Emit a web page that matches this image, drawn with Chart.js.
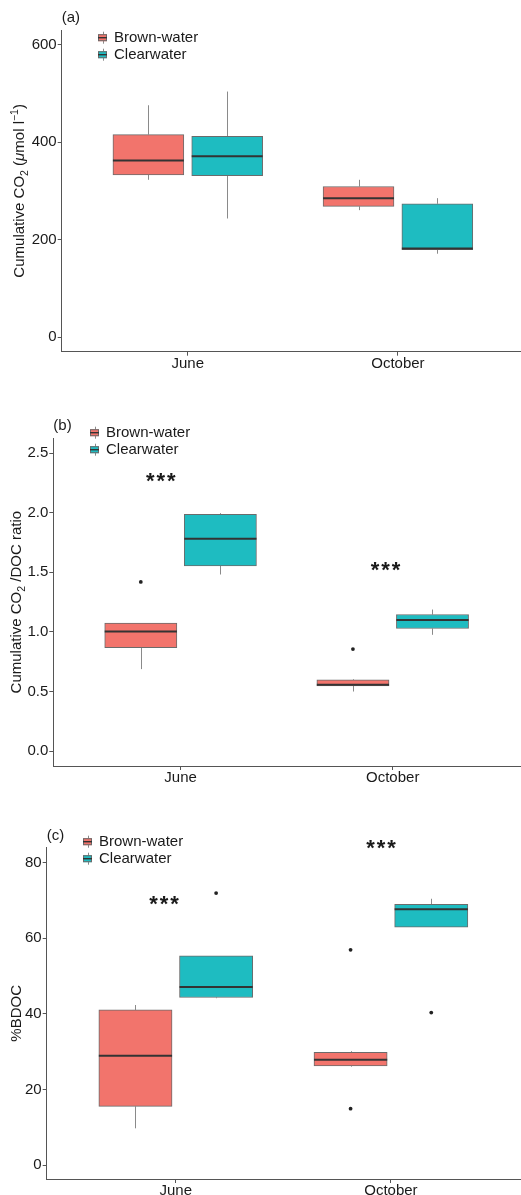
<!DOCTYPE html>
<html>
<head>
<meta charset="utf-8">
<script src="https://cdn.jsdelivr.net/npm/chart.js@4.4.1/dist/chart.umd.min.js"></script>
<style>
  html, body { margin: 0; padding: 0; background: #fff; overflow: hidden; width: 521px; height: 1195px; }
  canvas { position: absolute; left: 0; }
</style>
</head>
<body>
<canvas id="panelA" width="524" height="390" style="top:0px"></canvas>
<canvas id="panelB" width="524" height="395" style="top:395px"></canvas>
<canvas id="panelC" width="524" height="395" style="top:800px"></canvas>
<script>
const months = ['June', 'October'];
const groups = ['Brown-water', 'Clearwater'];

// five-number summaries per month: [lower whisker, Q1, median, Q3, upper whisker]
const co2Brown = [[322.7, 332.9, 362.2, 415.5, 475.6], [260.4, 268.0, 285.0, 309.0, 322.7]];
const co2Clear = [[243.3, 330.9, 371.0, 412.0, 503.7], [171.0, 179.2, 181.8, 273.5, 285.0]];
const co2BrownOut = [[], []];
const co2ClearOut = [[], []];

const ratioBrown = [[0.688, 0.869, 1.003, 1.074, 1.074], [0.500, 0.548, 0.556, 0.598, 0.604]];
const ratioClear = [[1.482, 1.555, 1.781, 1.988, 1.997], [0.976, 1.029, 1.101, 1.146, 1.188]];
const ratioBrownOut = [[1.42], [0.856]];
const ratioClearOut = [[], []];

const bdocBrown = [[9.7, 15.5, 28.9, 41.0, 42.3], [26.0, 26.2, 27.8, 29.8, 30.1]];
const bdocClear = [[44.1, 44.3, 47.1, 55.3, 55.3], [62.9, 62.9, 67.6, 68.9, 70.4]];
const bdocBrownOut = [[], [56.9, 14.9]];
const bdocClearOut = [[71.9], [40.3]];

const co2Ticks = [0, 200, 400, 600];
const ratioTicks = [0, 0.5, 1, 1.5, 2, 2.5];
const bdocTicks = [0, 20, 40, 60, 80];

// significance marks ("***"): x in month units, y in data units
const ratioSigX = [0.907, 1.966];
const ratioSigY = [2.31, 1.563];
const bdocSigX = [0.945, 1.954];
const bdocSigY = [70.5, 85.3];

const FONT = '"Liberation Sans", Arial, Helvetica, sans-serif';
const fills = ['#F2746C', '#1EBCC1'];
const boxLine = '#6b6b6b';
const whiskerLine = '#8a8a8a';
const medianLine = '#333333';
const axisLine = '#555555';
const textColor = '#1a1a1a';

Chart.defaults.font.family = FONT;

const panels = [
  {
    id: 'panelA', tag: '(a)',
    title: [{ t: 'Cumulative CO' }, { t: '2', sub: true }, { t: ' (' }, { t: 'μ', it: true }, { t: 'mol l' }, { t: '−1', sup: true }, { t: ')' }],
    stats: [co2Brown, co2Clear], outs: [co2BrownOut, co2ClearOut],
    ticks: co2Ticks, fmt: v => String(v), yMin: -30, yMax: 630,
    sigX: [], sigY: [],
    area: { left: 61.7, top: 30, bottom: 351.7 }, legend: { x: 98, y: 37.7 }, titleX: 19
  },
  {
    id: 'panelB', tag: '(b)',
    title: [{ t: 'Cumulative CO' }, { t: '2', sub: true }, { t: ' /DOC ratio' }],
    stats: [ratioBrown, ratioClear], outs: [ratioBrownOut, ratioClearOut],
    ticks: ratioTicks, fmt: v => v.toFixed(1), yMin: -0.125, yMax: 2.625,
    sigX: ratioSigX, sigY: ratioSigY,
    area: { left: 53.3, top: 43.3, bottom: 371 }, legend: { x: 90, y: 37.7 }, titleX: 16
  },
  {
    id: 'panelC', tag: '(c)',
    title: [{ t: '%BDOC' }],
    stats: [bdocBrown, bdocClear], outs: [bdocBrownOut, bdocClearOut],
    ticks: bdocTicks, fmt: v => String(v), yMin: -3.7, yMax: 83.9,
    sigX: bdocSigX, sigY: bdocSigY,
    area: { left: 46.7, top: 47.7, bottom: 379 }, legend: { x: 83, y: 41.7 }, titleX: 16
  }
];

// vertical title made of regular, italic, subscript and superscript runs
function drawRichVertical(ctx, segs, cx, cy, size) {
  const fontFor = s => {
    const sz = (s.sub || s.sup) ? size * 0.7 : size;
    return (s.it ? 'italic ' : '') + sz + 'px ' + FONT;
  };
  let total = 0;
  const widths = segs.map(s => { ctx.font = fontFor(s); const w = ctx.measureText(s.t).width; total += w; return w; });
  ctx.save();
  ctx.translate(cx, cy);
  ctx.rotate(-Math.PI / 2);
  ctx.fillStyle = textColor;
  ctx.textBaseline = 'alphabetic';
  ctx.textAlign = 'left';
  let x = -total / 2;
  const base = size * 0.36;
  segs.forEach((s, i) => {
    ctx.font = fontFor(s);
    let y = base;
    if (s.sub) y += size * 0.22;
    if (s.sup) y -= size * 0.42;
    ctx.fillText(s.t, x, y);
    x += widths[i];
  });
  ctx.restore();
}

// "***" with the asterisks spread a little wider than the font's own advance
function drawStars(ctx, cx, cy) {
  ctx.save();
  ctx.font = 'bold 22px ' + FONT;
  ctx.textAlign = 'center';
  ctx.textBaseline = 'alphabetic';
  ctx.fillStyle = textColor;
  [-10.5, 0, 10.5].forEach(dx => ctx.fillText('*', cx + dx, cy + 12.5));
  ctx.restore();
}

function makeChart(p) {
  const canvas = document.getElementById(p.id);
  const W = canvas.width, H = canvas.height;
  const unit = (W - p.area.left) / 2.2;
  const boxW = 0.3375 * unit;
  const dodge = [-0.1875, 0.1875];

  const datasets = [];
  groups.forEach((g, gi) => {
    datasets.push({
      type: 'bar',
      label: g,
      data: months.map((m, mi) => ({ x: mi + 1 + dodge[gi], y: [p.stats[gi][mi][1], p.stats[gi][mi][3]] })),
      backgroundColor: fills[gi],
      borderColor: boxLine,
      borderWidth: 1,
      borderSkipped: false,
      grouped: false,
      barThickness: boxW
    });
  });
  groups.forEach((g, gi) => {
    const pts = [];
    months.forEach((m, mi) => p.outs[gi][mi].forEach(v => pts.push({ x: mi + 1 + dodge[gi], y: v })));
    datasets.push({
      type: 'scatter',
      label: g + ' outliers',
      data: pts,
      pointRadius: 1.9,
      pointBackgroundColor: '#222',
      pointBorderWidth: 0,
      showLine: false
    });
  });

  const parts = {
    id: 'boxParts',
    beforeDatasetsDraw(chart) {
      const ctx = chart.ctx, ys = chart.scales.y;
      ctx.save();
      ctx.strokeStyle = whiskerLine;
      ctx.lineWidth = 1;
      groups.forEach((g, gi) => {
        const meta = chart.getDatasetMeta(gi);
        months.forEach((m, mi) => {
          const s = p.stats[gi][mi];
          const x = Math.round(meta.data[mi].x) + 0.5;
          ctx.beginPath();
          ctx.moveTo(x, ys.getPixelForValue(s[4]));
          ctx.lineTo(x, ys.getPixelForValue(s[3]));
          ctx.moveTo(x, ys.getPixelForValue(s[1]));
          ctx.lineTo(x, ys.getPixelForValue(s[0]));
          ctx.stroke();
        });
      });
      ctx.restore();
    },
    afterDatasetsDraw(chart) {
      const ctx = chart.ctx, ys = chart.scales.y;
      ctx.save();
      ctx.strokeStyle = medianLine;
      ctx.lineWidth = 2;
      groups.forEach((g, gi) => {
        const meta = chart.getDatasetMeta(gi);
        months.forEach((m, mi) => {
          const el = meta.data[mi];
          const y = ys.getPixelForValue(p.stats[gi][mi][2]);
          ctx.beginPath();
          ctx.moveTo(el.x - el.width / 2, y);
          ctx.lineTo(el.x + el.width / 2, y);
          ctx.stroke();
        });
      });
      ctx.restore();
    },
    afterDraw(chart) {
      const ctx = chart.ctx, xs = chart.scales.x, ys = chart.scales.y, area = chart.chartArea;
      ctx.save();
      // panel tag
      ctx.font = '15px ' + FONT;
      ctx.fillStyle = textColor;
      ctx.textAlign = 'left';
      ctx.textBaseline = 'middle';
      ctx.fillText(p.tag, area.left, area.top - 12);

      // legend
      groups.forEach((g, gi) => {
        const cy = p.legend.y + gi * 17;
        const lx = p.legend.x;
        const cx = Math.round(lx + 4.5) + 0.5;
        ctx.strokeStyle = whiskerLine;
        ctx.lineWidth = 1;
        ctx.beginPath();
        ctx.moveTo(cx, cy - 6);
        ctx.lineTo(cx, cy + 6);
        ctx.stroke();
        ctx.fillStyle = fills[gi];
        ctx.fillRect(lx, cy - 3.5, 9, 7);
        ctx.strokeStyle = boxLine;
        ctx.strokeRect(lx + 0.5, cy - 3, 8, 6);
        ctx.strokeStyle = medianLine;
        ctx.lineWidth = 1.4;
        ctx.beginPath();
        ctx.moveTo(lx, cy);
        ctx.lineTo(lx + 9, cy);
        ctx.stroke();
        ctx.fillStyle = textColor;
        ctx.font = '15px ' + FONT;
        ctx.fillText(g, lx + 16, cy + 0.5);
      });
      ctx.restore();

      // significance marks
      p.sigX.forEach((xv, i) => drawStars(ctx, xs.getPixelForValue(xv), ys.getPixelForValue(p.sigY[i])));

      // y-axis title
      drawRichVertical(ctx, p.title, p.titleX, (area.top + area.bottom) / 2, 15);
    }
  };

  return new Chart(canvas, {
    type: 'bar',
    data: { datasets },
    options: {
      responsive: false,
      animation: false,
      devicePixelRatio: 1,
      layout: { padding: { top: p.area.top, left: 0, right: 0, bottom: 0 } },
      plugins: { legend: { display: false }, tooltip: { enabled: false } },
      scales: {
        x: {
          type: 'linear',
          min: 0.4,
          max: 2.6,
          offset: false,
          afterBuildTicks: s => { s.ticks = months.map((m, i) => ({ value: i + 1 })); },
          afterFit: s => { s.height = H - p.area.bottom; },
          ticks: {
            callback: v => months[Math.round(v) - 1],
            color: textColor,
            font: { size: 15 },
            padding: -1,
            autoSkip: false,
            maxRotation: 0
          },
          grid: { offset: false, drawOnChartArea: false, drawTicks: true, tickLength: 4, tickColor: axisLine, tickWidth: 1 },
          border: { display: true, color: axisLine, width: 1 }
        },
        y: {
          type: 'linear',
          min: p.yMin,
          max: p.yMax,
          afterBuildTicks: s => { s.ticks = p.ticks.map(v => ({ value: v })); },
          afterFit: s => { s.width = p.area.left; },
          ticks: {
            callback: v => p.fmt(v),
            color: textColor,
            font: { size: 15 },
            padding: 1
          },
          grid: { drawOnChartArea: false, drawTicks: true, tickLength: 4, tickColor: axisLine, tickWidth: 1 },
          border: { display: true, color: axisLine, width: 1 }
        }
      }
    },
    plugins: [parts]
  });
}

panels.forEach(makeChart);
</script>
</body>
</html>
